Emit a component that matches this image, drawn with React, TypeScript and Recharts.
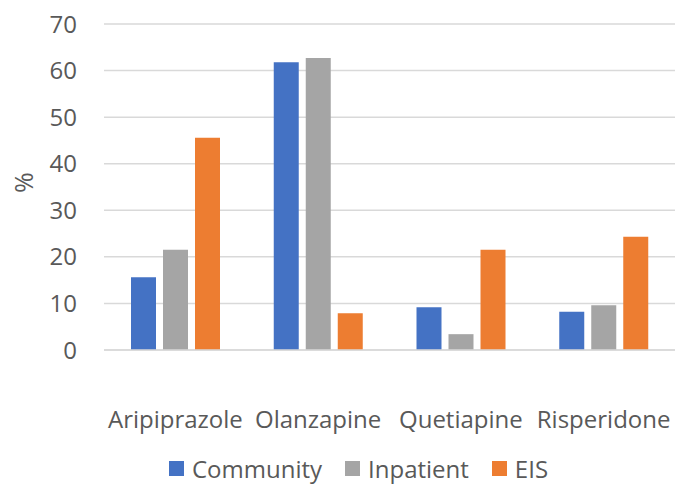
import { BarChart, Bar, XAxis, YAxis, CartesianGrid, Legend } from 'recharts'

document.body.style.margin = '0'

const drugs = ['Aripiprazole', 'Olanzapine', 'Quetiapine', 'Risperidone']
const community = [15.6, 61.8, 9.2, 8.2]
const inpatient = [21.5, 62.7, 3.4, 9.6]
const eis = [45.6, 7.9, 21.5, 24.3]
const yTicks = [0, 10, 20, 30, 40, 50, 60, 70]

const series = [
  { key: 'community', name: 'Community', color: '#4472C4' },
  { key: 'inpatient', name: 'Inpatient', color: '#A5A5A5' },
  { key: 'eis', name: 'EIS', color: '#ED7D31' },
]

const data = drugs.map((d, i) => ({
  drug: d,
  community: community[i],
  inpatient: inpatient[i],
  eis: eis[i],
}))

const font = '"Open Sans", "Noto Sans", sans-serif'
const textColor = '#595959'

function LegendBox() {
  return (
    <div style={{ height: 36, display: 'flex', justifyContent: 'center', alignItems: 'center', fontFamily: font, fontSize: 24, lineHeight: '33px', color: textColor, paddingLeft: 42 }}>
      {series.map((s, i) => (
        <span key={s.key} style={{ display: 'inline-flex', alignItems: 'center', marginRight: i < series.length - 1 ? 23 : 0 }}>
          <span style={{ width: 15, height: 15, background: s.color, marginRight: 8, display: 'inline-block' }} />
          {s.name}
        </span>
      ))}
    </div>
  )
}

export default function App() {
  return (
    <BarChart width={676} height={486} data={data} margin={{ top: 24, right: 1, left: 0, bottom: 0 }} barSize={25} barGap={7}>
      <CartesianGrid vertical={false} stroke="#D9D9D9" strokeWidth={1.5} />
      <XAxis
        dataKey="drug"
        height={100}
        tickSize={0}
        tickMargin={61}
        axisLine={{ stroke: '#D9D9D9', strokeWidth: 1.5 }}
        tickLine={false}
        interval={0}
        tick={{ fontSize: 24, fill: textColor, fontFamily: font }}
      />
      <YAxis
        width={104}
        domain={[0, 70]}
        ticks={yTicks}
        tickSize={0}
        tickMargin={27}
        axisLine={false}
        tickLine={false}
        tick={{ fontSize: 24, fill: textColor, fontFamily: font }}
        label={{ value: '%', angle: -90, position: 'insideLeft', offset: 24, dy: 6, fontSize: 25, fill: textColor, fontFamily: font }}
      />
      <Legend verticalAlign="bottom" content={() => <LegendBox />} />
      {series.map(s => (
        <Bar key={s.key} dataKey={s.key} name={s.name} fill={s.color} isAnimationActive={false} />
      ))}
    </BarChart>
  )
}
